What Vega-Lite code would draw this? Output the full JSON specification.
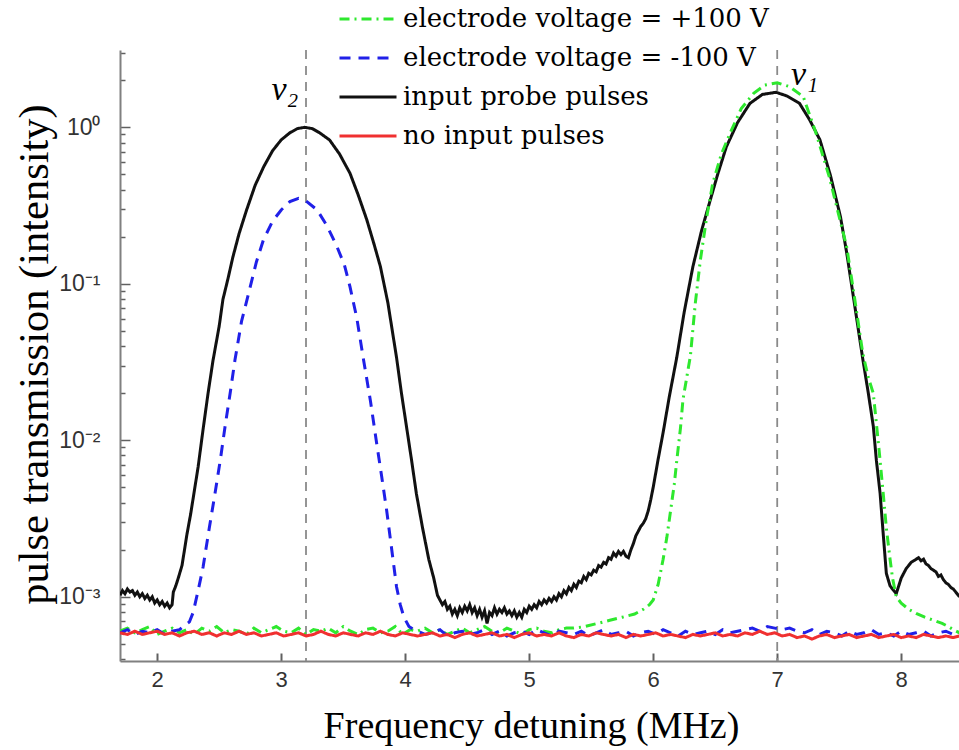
{
"$schema":"https://vega.github.io/schema/vega-lite/v6.json",
"width":839,"height":611,
"autosize":{"type":"none"},
"padding":{"left":120,"top":50,"right":0,"bottom":89},
"background":"white",
"config":{"view":{"stroke":null}},
"datasets":{
"curves":[
{"s":"k","x":1.70,"y":0.001023},{"s":"k","x":1.72,"y":0.001096},{"s":"k","x":1.74,"y":0.001047},{"s":"k","x":1.76,"y":0.001122},{"s":"k","x":1.78,"y":0.001072},{"s":"k","x":1.80,"y":0.001096},{"s":"k","x":1.82,"y":0.001023},{"s":"k","x":1.84,"y":0.001072},{"s":"k","x":1.86,"y":0.001},{"s":"k","x":1.88,"y":0.001047},{"s":"k","x":1.90,"y":0.000977},{"s":"k","x":1.92,"y":0.001023},{"s":"k","x":1.94,"y":0.000955},{"s":"k","x":1.96,"y":0.001},{"s":"k","x":1.98,"y":0.000912},{"s":"k","x":2.00,"y":0.000955},{"s":"k","x":2.02,"y":0.000891},{"s":"k","x":2.04,"y":0.000933},{"s":"k","x":2.06,"y":0.000871},{"s":"k","x":2.08,"y":0.000912},{"s":"k","x":2.10,"y":0.000851},{"s":"k","x":2.12,"y":0.000891},{"s":"k","x":2.13,"y":0.001072},{"s":"k","x":2.15,"y":0.001175},{"s":"k","x":2.17,"y":0.001318},{"s":"k","x":2.20,"y":0.001585},{"s":"k","x":2.22,"y":0.001995},{"s":"k","x":2.24,"y":0.002512},{"s":"k","x":2.27,"y":0.003388},{"s":"k","x":2.30,"y":0.004786},{"s":"k","x":2.33,"y":0.006761},{"s":"k","x":2.37,"y":0.01175},{"s":"k","x":2.41,"y":0.01995},{"s":"k","x":2.45,"y":0.03236},{"s":"k","x":2.50,"y":0.0537},{"s":"k","x":2.53,"y":0.07943},{"s":"k","x":2.57,"y":0.1072},{"s":"k","x":2.61,"y":0.1479},{"s":"k","x":2.66,"y":0.2089},{"s":"k","x":2.72,"y":0.2951},{"s":"k","x":2.79,"y":0.4266},{"s":"k","x":2.86,"y":0.5623},{"s":"k","x":2.93,"y":0.7079},{"s":"k","x":3.00,"y":0.8318},{"s":"k","x":3.07,"y":0.9226},{"s":"k","x":3.13,"y":0.9817},{"s":"k","x":3.19,"y":1.0},{"s":"k","x":3.25,"y":0.9817},{"s":"k","x":3.31,"y":0.9226},{"s":"k","x":3.39,"y":0.83},{"s":"k","x":3.47,"y":0.6761},{"s":"k","x":3.555,"y":0.5082},{"s":"k","x":3.62,"y":0.3715},{"s":"k","x":3.69,"y":0.257},{"s":"k","x":3.75,"y":0.1778},{"s":"k","x":3.80,"y":0.1288},{"s":"k","x":3.86,"y":0.07586},{"s":"k","x":3.93,"y":0.03388},{"s":"k","x":3.97,"y":0.01995},{"s":"k","x":4.01,"y":0.0123},{"s":"k","x":4.05,"y":0.007586},{"s":"k","x":4.09,"y":0.004571},{"s":"k","x":4.14,"y":0.002754},{"s":"k","x":4.19,"y":0.001738},{"s":"k","x":4.23,"y":0.001318},{"s":"k","x":4.26,"y":0.001023},{"s":"k","x":4.28,"y":0.000955},{"s":"k","x":4.30,"y":0.000891},{"s":"k","x":4.32,"y":0.000933},{"s":"k","x":4.34,"y":0.000832},{"s":"k","x":4.36,"y":0.000871},{"s":"k","x":4.38,"y":0.000776},{"s":"k","x":4.40,"y":0.000832},{"s":"k","x":4.42,"y":0.000759},{"s":"k","x":4.44,"y":0.000851},{"s":"k","x":4.46,"y":0.000794},{"s":"k","x":4.48,"y":0.000871},{"s":"k","x":4.50,"y":0.000813},{"s":"k","x":4.52,"y":0.000891},{"s":"k","x":4.54,"y":0.000794},{"s":"k","x":4.56,"y":0.000851},{"s":"k","x":4.58,"y":0.000759},{"s":"k","x":4.60,"y":0.000832},{"s":"k","x":4.62,"y":0.000741},{"s":"k","x":4.64,"y":0.000813},{"s":"k","x":4.66,"y":0.000676},{"s":"k","x":4.68,"y":0.000794},{"s":"k","x":4.70,"y":0.000759},{"s":"k","x":4.72,"y":0.000851},{"s":"k","x":4.74,"y":0.000776},{"s":"k","x":4.76,"y":0.000832},{"s":"k","x":4.78,"y":0.000794},{"s":"k","x":4.80,"y":0.000851},{"s":"k","x":4.82,"y":0.000776},{"s":"k","x":4.84,"y":0.000813},{"s":"k","x":4.86,"y":0.000759},{"s":"k","x":4.88,"y":0.000813},{"s":"k","x":4.90,"y":0.000741},{"s":"k","x":4.92,"y":0.000794},{"s":"k","x":4.94,"y":0.000741},{"s":"k","x":4.96,"y":0.000832},{"s":"k","x":4.98,"y":0.000794},{"s":"k","x":5.00,"y":0.000871},{"s":"k","x":5.02,"y":0.000832},{"s":"k","x":5.04,"y":0.000891},{"s":"k","x":5.06,"y":0.000851},{"s":"k","x":5.08,"y":0.000933},{"s":"k","x":5.10,"y":0.000891},{"s":"k","x":5.12,"y":0.000955},{"s":"k","x":5.14,"y":0.000912},{"s":"k","x":5.16,"y":0.000977},{"s":"k","x":5.18,"y":0.000933},{"s":"k","x":5.20,"y":0.001},{"s":"k","x":5.22,"y":0.000955},{"s":"k","x":5.24,"y":0.001047},{"s":"k","x":5.26,"y":0.001},{"s":"k","x":5.28,"y":0.001096},{"s":"k","x":5.30,"y":0.001047},{"s":"k","x":5.32,"y":0.001148},{"s":"k","x":5.34,"y":0.001096},{"s":"k","x":5.36,"y":0.001202},{"s":"k","x":5.38,"y":0.001148},{"s":"k","x":5.40,"y":0.001259},{"s":"k","x":5.42,"y":0.00123},{"s":"k","x":5.44,"y":0.001349},{"s":"k","x":5.46,"y":0.001288},{"s":"k","x":5.48,"y":0.001413},{"s":"k","x":5.50,"y":0.00138},{"s":"k","x":5.52,"y":0.001479},{"s":"k","x":5.54,"y":0.001445},{"s":"k","x":5.56,"y":0.001585},{"s":"k","x":5.58,"y":0.001549},{"s":"k","x":5.60,"y":0.00166},{"s":"k","x":5.62,"y":0.001622},{"s":"k","x":5.64,"y":0.001778},{"s":"k","x":5.66,"y":0.001738},{"s":"k","x":5.68,"y":0.001905},{"s":"k","x":5.70,"y":0.00182},{"s":"k","x":5.72,"y":0.00195},{"s":"k","x":5.74,"y":0.001862},{"s":"k","x":5.76,"y":0.00195},{"s":"k","x":5.78,"y":0.00182},{"s":"k","x":5.80,"y":0.001778},{"s":"k","x":5.82,"y":0.001995},{"s":"k","x":5.84,"y":0.002188},{"s":"k","x":5.86,"y":0.002455},{"s":"k","x":5.88,"y":0.00263},{"s":"k","x":5.90,"y":0.002818},{"s":"k","x":5.92,"y":0.002951},{"s":"k","x":5.94,"y":0.003162},{"s":"k","x":5.96,"y":0.003548},{"s":"k","x":5.98,"y":0.004169},{"s":"k","x":6.00,"y":0.005012},{"s":"k","x":6.04,"y":0.007586},{"s":"k","x":6.08,"y":0.01122},{"s":"k","x":6.13,"y":0.01905},{"s":"k","x":6.19,"y":0.03388},{"s":"k","x":6.25,"y":0.06607},{"s":"k","x":6.32,"y":0.1288},{"s":"k","x":6.39,"y":0.2188},{"s":"k","x":6.46,"y":0.3428},{"s":"k","x":6.52,"y":0.5012},{"s":"k","x":6.59,"y":0.7516},{"s":"k","x":6.68,"y":1.072},{"s":"k","x":6.78,"y":1.422},{"s":"k","x":6.88,"y":1.622},{"s":"k","x":6.99,"y":1.675},{"s":"k","x":7.08,"y":1.585},{"s":"k","x":7.18,"y":1.422},{"s":"k","x":7.26,"y":1.122},{"s":"k","x":7.345,"y":0.83},{"s":"k","x":7.43,"y":0.4898},{"s":"k","x":7.51,"y":0.2685},{"s":"k","x":7.56,"y":0.1585},{"s":"k","x":7.61,"y":0.0871},{"s":"k","x":7.65,"y":0.0537},{"s":"k","x":7.69,"y":0.03311},{"s":"k","x":7.735,"y":0.01995},{"s":"k","x":7.775,"y":0.0123},{"s":"k","x":7.80,"y":0.007413},{"s":"k","x":7.83,"y":0.004571},{"s":"k","x":7.855,"y":0.002512},{"s":"k","x":7.88,"y":0.001413},{"s":"k","x":7.91,"y":0.001175},{"s":"k","x":7.94,"y":0.001096},{"s":"k","x":7.96,"y":0.001047},{"s":"k","x":7.98,"y":0.001175},{"s":"k","x":8.00,"y":0.001318},{"s":"k","x":8.02,"y":0.001413},{"s":"k","x":8.04,"y":0.001514},{"s":"k","x":8.06,"y":0.001585},{"s":"k","x":8.08,"y":0.00166},{"s":"k","x":8.10,"y":0.001698},{"s":"k","x":8.12,"y":0.001738},{"s":"k","x":8.14,"y":0.001778},{"s":"k","x":8.16,"y":0.001698},{"s":"k","x":8.18,"y":0.001738},{"s":"k","x":8.20,"y":0.001622},{"s":"k","x":8.22,"y":0.001585},{"s":"k","x":8.24,"y":0.001514},{"s":"k","x":8.26,"y":0.001479},{"s":"k","x":8.28,"y":0.001445},{"s":"k","x":8.30,"y":0.001349},{"s":"k","x":8.32,"y":0.00138},{"s":"k","x":8.34,"y":0.001288},{"s":"k","x":8.36,"y":0.00123},{"s":"k","x":8.38,"y":0.001202},{"s":"k","x":8.40,"y":0.001148},{"s":"k","x":8.42,"y":0.001122},{"s":"k","x":8.44,"y":0.001072},{"s":"k","x":8.47,"y":0.001},
{"s":"g","x":1.70,"y":0.000603},{"s":"g","x":1.76,"y":0.000631},{"s":"g","x":1.82,"y":0.000589},{"s":"g","x":1.88,"y":0.000617},{"s":"g","x":1.94,"y":0.000646},{"s":"g","x":2.00,"y":0.000575},{"s":"g","x":2.06,"y":0.000603},{"s":"g","x":2.12,"y":0.000631},{"s":"g","x":2.18,"y":0.000589},{"s":"g","x":2.24,"y":0.000617},{"s":"g","x":2.30,"y":0.000575},{"s":"g","x":2.36,"y":0.000631},{"s":"g","x":2.42,"y":0.000603},{"s":"g","x":2.48,"y":0.000646},{"s":"g","x":2.54,"y":0.000589},{"s":"g","x":2.60,"y":0.000617},{"s":"g","x":2.66,"y":0.000603},{"s":"g","x":2.72,"y":0.000575},{"s":"g","x":2.78,"y":0.000631},{"s":"g","x":2.84,"y":0.000589},{"s":"g","x":2.90,"y":0.000617},{"s":"g","x":2.96,"y":0.000646},{"s":"g","x":3.02,"y":0.000603},{"s":"g","x":3.08,"y":0.000589},{"s":"g","x":3.14,"y":0.000631},{"s":"g","x":3.20,"y":0.000575},{"s":"g","x":3.26,"y":0.000617},{"s":"g","x":3.32,"y":0.000603},{"s":"g","x":3.38,"y":0.000631},{"s":"g","x":3.44,"y":0.000589},{"s":"g","x":3.50,"y":0.000646},{"s":"g","x":3.56,"y":0.000603},{"s":"g","x":3.62,"y":0.000575},{"s":"g","x":3.68,"y":0.000617},{"s":"g","x":3.74,"y":0.000631},{"s":"g","x":3.80,"y":0.000589},{"s":"g","x":3.86,"y":0.000603},{"s":"g","x":3.92,"y":0.000646},{"s":"g","x":3.98,"y":0.000575},{"s":"g","x":4.04,"y":0.000617},{"s":"g","x":4.10,"y":0.000603},{"s":"g","x":4.16,"y":0.000631},{"s":"g","x":4.22,"y":0.000589},{"s":"g","x":4.28,"y":0.000617},{"s":"g","x":4.34,"y":0.000575},{"s":"g","x":4.40,"y":0.000603},{"s":"g","x":4.46,"y":0.000631},{"s":"g","x":4.52,"y":0.000589},{"s":"g","x":4.58,"y":0.000617},{"s":"g","x":4.64,"y":0.000646},{"s":"g","x":4.70,"y":0.000603},{"s":"g","x":4.76,"y":0.000589},{"s":"g","x":4.82,"y":0.000631},{"s":"g","x":4.88,"y":0.000603},{"s":"g","x":4.94,"y":0.000575},{"s":"g","x":5.00,"y":0.000617},{"s":"g","x":5.06,"y":0.000631},{"s":"g","x":5.12,"y":0.000603},{"s":"g","x":5.18,"y":0.000589},{"s":"g","x":5.24,"y":0.000617},{"s":"g","x":5.30,"y":0.000631},{"s":"g","x":5.36,"y":0.000631},{"s":"g","x":5.45,"y":0.000646},{"s":"g","x":5.55,"y":0.000676},{"s":"g","x":5.65,"y":0.000708},{"s":"g","x":5.75,"y":0.000741},{"s":"g","x":5.85,"y":0.000776},{"s":"g","x":5.92,"y":0.000832},{"s":"g","x":5.97,"y":0.000891},{"s":"g","x":6.00,"y":0.000955},{"s":"g","x":6.04,"y":0.001202},{"s":"g","x":6.08,"y":0.001738},{"s":"g","x":6.11,"y":0.002399},{"s":"g","x":6.14,"y":0.003548},{"s":"g","x":6.17,"y":0.005248},{"s":"g","x":6.19,"y":0.007413},{"s":"g","x":6.22,"y":0.01202},{"s":"g","x":6.24,"y":0.0182},{"s":"g","x":6.27,"y":0.02512},{"s":"g","x":6.30,"y":0.03467},{"s":"g","x":6.34,"y":0.07586},{"s":"g","x":6.38,"y":0.1413},{"s":"g","x":6.43,"y":0.263},{"s":"g","x":6.48,"y":0.4385},{"s":"g","x":6.55,"y":0.6761},{"s":"g","x":6.62,"y":0.9162},{"s":"g","x":6.71,"y":1.318},{"s":"g","x":6.81,"y":1.648},{"s":"g","x":6.90,"y":1.862},{"s":"g","x":7.00,"y":1.928},{"s":"g","x":7.10,"y":1.82},{"s":"g","x":7.21,"y":1.57},{"s":"g","x":7.31,"y":0.9333},{"s":"g","x":7.42,"y":0.4831},{"s":"g","x":7.49,"y":0.2884},{"s":"g","x":7.56,"y":0.1726},{"s":"g","x":7.62,"y":0.08511},{"s":"g","x":7.69,"y":0.03597},{"s":"g","x":7.735,"y":0.02512},{"s":"g","x":7.775,"y":0.01995},{"s":"g","x":7.82,"y":0.008913},{"s":"g","x":7.855,"y":0.004571},{"s":"g","x":7.88,"y":0.002754},{"s":"g","x":7.91,"y":0.001738},{"s":"g","x":7.93,"y":0.001318},{"s":"g","x":7.96,"y":0.001},{"s":"g","x":8.00,"y":0.000912},{"s":"g","x":8.06,"y":0.000832},{"s":"g","x":8.12,"y":0.000785},{"s":"g","x":8.19,"y":0.000741},{"s":"g","x":8.26,"y":0.000708},{"s":"g","x":8.33,"y":0.000676},{"s":"g","x":8.38,"y":0.000646},{"s":"g","x":8.42,"y":0.000617},{"s":"g","x":8.47,"y":0.000589},
{"s":"b","x":1.70,"y":0.000589},{"s":"b","x":1.76,"y":0.000617},{"s":"b","x":1.82,"y":0.000575},{"s":"b","x":1.88,"y":0.000603},{"s":"b","x":1.94,"y":0.000589},{"s":"b","x":2.00,"y":0.000617},{"s":"b","x":2.06,"y":0.000575},{"s":"b","x":2.12,"y":0.000603},{"s":"b","x":2.18,"y":0.000617},{"s":"b","x":2.21,"y":0.000646},{"s":"b","x":2.26,"y":0.000692},{"s":"b","x":2.29,"y":0.000794},{"s":"b","x":2.33,"y":0.001096},{"s":"b","x":2.37,"y":0.001549},{"s":"b","x":2.42,"y":0.002754},{"s":"b","x":2.466,"y":0.004571},{"s":"b","x":2.51,"y":0.007586},{"s":"b","x":2.547,"y":0.01222},{"s":"b","x":2.59,"y":0.02042},{"s":"b","x":2.627,"y":0.03258},{"s":"b","x":2.68,"y":0.05754},{"s":"b","x":2.75,"y":0.0955},{"s":"b","x":2.80,"y":0.138},{"s":"b","x":2.856,"y":0.1905},{"s":"b","x":2.93,"y":0.2512},{"s":"b","x":3.00,"y":0.2965},{"s":"b","x":3.07,"y":0.335},{"s":"b","x":3.14,"y":0.3516},{"s":"b","x":3.20,"y":0.3388},{"s":"b","x":3.29,"y":0.2965},{"s":"b","x":3.37,"y":0.2344},{"s":"b","x":3.45,"y":0.1726},{"s":"b","x":3.51,"y":0.1318},{"s":"b","x":3.555,"y":0.0955},{"s":"b","x":3.61,"y":0.06026},{"s":"b","x":3.66,"y":0.0342},{"s":"b","x":3.72,"y":0.01778},{"s":"b","x":3.77,"y":0.00955},{"s":"b","x":3.81,"y":0.005888},{"s":"b","x":3.85,"y":0.003589},{"s":"b","x":3.89,"y":0.002042},{"s":"b","x":3.93,"y":0.001161},{"s":"b","x":3.96,"y":0.000891},{"s":"b","x":3.99,"y":0.000741},{"s":"b","x":4.03,"y":0.000646},{"s":"b","x":4.07,"y":0.000617},{"s":"b","x":4.10,"y":0.000603},{"s":"b","x":4.16,"y":0.000575},{"s":"b","x":4.22,"y":0.000589},{"s":"b","x":4.28,"y":0.000617},{"s":"b","x":4.34,"y":0.000562},{"s":"b","x":4.40,"y":0.000589},{"s":"b","x":4.46,"y":0.000603},{"s":"b","x":4.52,"y":0.000575},{"s":"b","x":4.58,"y":0.000589},{"s":"b","x":4.64,"y":0.000617},{"s":"b","x":4.70,"y":0.000575},{"s":"b","x":4.76,"y":0.000603},{"s":"b","x":4.82,"y":0.000562},{"s":"b","x":4.88,"y":0.000589},{"s":"b","x":4.94,"y":0.000603},{"s":"b","x":5.00,"y":0.000575},{"s":"b","x":5.06,"y":0.000617},{"s":"b","x":5.12,"y":0.000589},{"s":"b","x":5.18,"y":0.000562},{"s":"b","x":5.24,"y":0.000603},{"s":"b","x":5.30,"y":0.000589},{"s":"b","x":5.36,"y":0.000575},{"s":"b","x":5.42,"y":0.000603},{"s":"b","x":5.48,"y":0.000562},{"s":"b","x":5.54,"y":0.000589},{"s":"b","x":5.60,"y":0.000617},{"s":"b","x":5.66,"y":0.000575},{"s":"b","x":5.72,"y":0.000589},{"s":"b","x":5.78,"y":0.000603},{"s":"b","x":5.84,"y":0.000562},{"s":"b","x":5.90,"y":0.000589},{"s":"b","x":5.96,"y":0.000603},{"s":"b","x":6.02,"y":0.000575},{"s":"b","x":6.08,"y":0.000617},{"s":"b","x":6.14,"y":0.000589},{"s":"b","x":6.20,"y":0.000562},{"s":"b","x":6.26,"y":0.000603},{"s":"b","x":6.32,"y":0.000575},{"s":"b","x":6.38,"y":0.000589},{"s":"b","x":6.44,"y":0.000603},{"s":"b","x":6.50,"y":0.000575},{"s":"b","x":6.56,"y":0.000617},{"s":"b","x":6.62,"y":0.000589},{"s":"b","x":6.68,"y":0.000603},{"s":"b","x":6.74,"y":0.000617},{"s":"b","x":6.80,"y":0.000631},{"s":"b","x":6.86,"y":0.000603},{"s":"b","x":6.92,"y":0.000646},{"s":"b","x":6.98,"y":0.000631},{"s":"b","x":7.04,"y":0.000617},{"s":"b","x":7.10,"y":0.000631},{"s":"b","x":7.16,"y":0.000603},{"s":"b","x":7.22,"y":0.000589},{"s":"b","x":7.28,"y":0.000617},{"s":"b","x":7.34,"y":0.000575},{"s":"b","x":7.40,"y":0.000603},{"s":"b","x":7.46,"y":0.000589},{"s":"b","x":7.52,"y":0.000562},{"s":"b","x":7.58,"y":0.000603},{"s":"b","x":7.64,"y":0.000575},{"s":"b","x":7.70,"y":0.000589},{"s":"b","x":7.76,"y":0.000617},{"s":"b","x":7.82,"y":0.000575},{"s":"b","x":7.88,"y":0.000589},{"s":"b","x":7.94,"y":0.000562},{"s":"b","x":8.00,"y":0.000603},{"s":"b","x":8.06,"y":0.000575},{"s":"b","x":8.12,"y":0.000589},{"s":"b","x":8.18,"y":0.000603},{"s":"b","x":8.24,"y":0.000562},{"s":"b","x":8.30,"y":0.000589},{"s":"b","x":8.36,"y":0.000603},{"s":"b","x":8.42,"y":0.000575},{"s":"b","x":8.47,"y":0.000589},
{"s":"r","x":1.70,"y":0.000589},{"s":"r","x":1.76,"y":0.000575},{"s":"r","x":1.82,"y":0.000603},{"s":"r","x":1.88,"y":0.000575},{"s":"r","x":1.94,"y":0.000589},{"s":"r","x":2.00,"y":0.000603},{"s":"r","x":2.06,"y":0.000575},{"s":"r","x":2.12,"y":0.000589},{"s":"r","x":2.18,"y":0.000562},{"s":"r","x":2.24,"y":0.000589},{"s":"r","x":2.30,"y":0.000603},{"s":"r","x":2.36,"y":0.000575},{"s":"r","x":2.42,"y":0.000589},{"s":"r","x":2.48,"y":0.000562},{"s":"r","x":2.54,"y":0.000589},{"s":"r","x":2.60,"y":0.000575},{"s":"r","x":2.66,"y":0.000603},{"s":"r","x":2.72,"y":0.000575},{"s":"r","x":2.78,"y":0.000589},{"s":"r","x":2.84,"y":0.000562},{"s":"r","x":2.90,"y":0.000575},{"s":"r","x":2.96,"y":0.000589},{"s":"r","x":3.02,"y":0.000562},{"s":"r","x":3.08,"y":0.000575},{"s":"r","x":3.14,"y":0.000589},{"s":"r","x":3.20,"y":0.000562},{"s":"r","x":3.26,"y":0.000575},{"s":"r","x":3.32,"y":0.000603},{"s":"r","x":3.38,"y":0.000575},{"s":"r","x":3.44,"y":0.000562},{"s":"r","x":3.50,"y":0.000589},{"s":"r","x":3.56,"y":0.000575},{"s":"r","x":3.62,"y":0.000562},{"s":"r","x":3.68,"y":0.000589},{"s":"r","x":3.74,"y":0.000575},{"s":"r","x":3.80,"y":0.000603},{"s":"r","x":3.86,"y":0.000575},{"s":"r","x":3.92,"y":0.000562},{"s":"r","x":3.98,"y":0.000589},{"s":"r","x":4.04,"y":0.000575},{"s":"r","x":4.10,"y":0.000562},{"s":"r","x":4.16,"y":0.000575},{"s":"r","x":4.22,"y":0.000589},{"s":"r","x":4.28,"y":0.000562},{"s":"r","x":4.34,"y":0.000575},{"s":"r","x":4.40,"y":0.000549},{"s":"r","x":4.46,"y":0.000575},{"s":"r","x":4.52,"y":0.000589},{"s":"r","x":4.58,"y":0.000562},{"s":"r","x":4.64,"y":0.000575},{"s":"r","x":4.70,"y":0.000589},{"s":"r","x":4.76,"y":0.000562},{"s":"r","x":4.82,"y":0.000575},{"s":"r","x":4.88,"y":0.000549},{"s":"r","x":4.94,"y":0.000575},{"s":"r","x":5.00,"y":0.000589},{"s":"r","x":5.06,"y":0.000562},{"s":"r","x":5.12,"y":0.000575},{"s":"r","x":5.18,"y":0.000562},{"s":"r","x":5.24,"y":0.000589},{"s":"r","x":5.30,"y":0.000562},{"s":"r","x":5.36,"y":0.000549},{"s":"r","x":5.42,"y":0.000575},{"s":"r","x":5.48,"y":0.000562},{"s":"r","x":5.54,"y":0.000589},{"s":"r","x":5.60,"y":0.000575},{"s":"r","x":5.66,"y":0.000562},{"s":"r","x":5.72,"y":0.000575},{"s":"r","x":5.78,"y":0.000549},{"s":"r","x":5.84,"y":0.000575},{"s":"r","x":5.90,"y":0.000562},{"s":"r","x":5.96,"y":0.000575},{"s":"r","x":6.02,"y":0.000589},{"s":"r","x":6.08,"y":0.000562},{"s":"r","x":6.14,"y":0.000575},{"s":"r","x":6.20,"y":0.000562},{"s":"r","x":6.26,"y":0.000549},{"s":"r","x":6.32,"y":0.000575},{"s":"r","x":6.38,"y":0.000562},{"s":"r","x":6.44,"y":0.000575},{"s":"r","x":6.50,"y":0.000589},{"s":"r","x":6.56,"y":0.000562},{"s":"r","x":6.62,"y":0.000575},{"s":"r","x":6.68,"y":0.000562},{"s":"r","x":6.74,"y":0.000589},{"s":"r","x":6.80,"y":0.000575},{"s":"r","x":6.86,"y":0.000603},{"s":"r","x":6.92,"y":0.000575},{"s":"r","x":6.98,"y":0.000589},{"s":"r","x":7.04,"y":0.000562},{"s":"r","x":7.10,"y":0.000575},{"s":"r","x":7.16,"y":0.000549},{"s":"r","x":7.22,"y":0.000562},{"s":"r","x":7.28,"y":0.000537},{"s":"r","x":7.34,"y":0.000562},{"s":"r","x":7.40,"y":0.000575},{"s":"r","x":7.46,"y":0.000549},{"s":"r","x":7.52,"y":0.000562},{"s":"r","x":7.58,"y":0.000575},{"s":"r","x":7.64,"y":0.000549},{"s":"r","x":7.70,"y":0.000562},{"s":"r","x":7.76,"y":0.000575},{"s":"r","x":7.82,"y":0.000549},{"s":"r","x":7.88,"y":0.000562},{"s":"r","x":7.94,"y":0.000575},{"s":"r","x":8.00,"y":0.000549},{"s":"r","x":8.06,"y":0.000562},{"s":"r","x":8.12,"y":0.000549},{"s":"r","x":8.18,"y":0.000575},{"s":"r","x":8.24,"y":0.000562},{"s":"r","x":8.30,"y":0.000549},{"s":"r","x":8.36,"y":0.000562},{"s":"r","x":8.42,"y":0.000549},{"s":"r","x":8.47,"y":0.000562}
]},
"layer":[
{"data":{"values":[{"x":3.2},{"x":7.0}]},
 "mark":{"type":"rule","strokeDash":[9,7],"color":"#8a8a8a","strokeWidth":1.8},
 "encoding":{"x":{"field":"x","type":"quantitative","scale":{"domain":[1.7,8.466],"nice":false,"zero":false}}}},
{"data":{"name":"curves"},
 "transform":[{"lookup":"s","from":{"data":{"values":[{"s":"g","name":"electrode voltage = +100 V"},{"s":"b","name":"electrode voltage = -100 V"},{"s":"k","name":"input probe pulses"},{"s":"r","name":"no input pulses"}]},"key":"s","fields":["name"]}}],
 "mark":{"type":"line","clip":true},
 "encoding":{
  "x":{"field":"x","type":"quantitative","scale":{"domain":[1.7,8.466],"nice":false,"zero":false},
   "axis":{"values":[2,3,4,5,6,7,8],"format":"d","grid":false,"domainColor":"#808080","domainWidth":2,"tickColor":"#606060","tickWidth":2,"tickSize":-8,"labelPadding":16,"labelFont":"Liberation Sans","labelFontSize":22,"labelColor":"#333333","title":"Frequency detuning (MHz)","titleFont":"Liberation Serif","titleFontSize":38,"titleFontWeight":"normal","titleColor":"#000000","titleBaseline":"alphabetic","titleX":411,"titleY":76,"titleAlign":"center"}},
  "y":{"field":"y","type":"quantitative","scale":{"type":"log","domain":[0.000389,3.12],"nice":false},
   "axis":{"values":[0.0004,0.0005,0.0006,0.0007,0.0008,0.0009,0.001,0.002,0.003,0.004,0.005,0.006,0.007,0.008,0.009,0.01,0.02,0.03,0.04,0.05,0.06,0.07,0.08,0.09,0.1,0.2,0.3,0.4,0.5,0.6,0.7,0.8,0.9,1,2,3],
    "labelExpr":"datum.value == 1 ? '10⁰' : datum.value == 0.1 ? '10⁻¹' : datum.value == 0.01 ? '10⁻²' : datum.value == 0.001 ? '10⁻³' : ''",
    "labelOverlap":false,"grid":false,"domainColor":"#808080","domainWidth":2,"tickColor":"#606060","tickWidth":1.5,
    "tickSize":{"condition":{"test":"indexof([0.001,0.01,0.1,1], datum.value) >= 0","value":-10},"value":-5},
    "labelPadding":30,"labelFont":"Liberation Sans","labelFontSize":23,"labelColor":"#333333",
    "title":"pulse transmission (intensity)","titleFont":"Liberation Serif","titleFontSize":42.5,"titleFontWeight":"normal","titleColor":"#000000","titleBaseline":"alphabetic","titleX":-73,"titleY":304,"titleAlign":"center"}},
  "color":{"field":"name","type":"nominal","scale":{"domain":["electrode voltage = +100 V","electrode voltage = -100 V","input probe pulses","no input pulses"],"range":["#2ee82e","#2020e8","#111111","#f03030"]},
   "legend":{"orient":"none","legendX":218,"legendY":-50,"title":null,"symbolType":"stroke","symbolSize":3249,"clipHeight":38,"rowPadding":1,"labelFont":"DejaVu Serif","labelFontSize":26,"labelColor":"#000000","labelLimit":600,"labelOffset":5,"padding":0}},
  "strokeDash":{"field":"name","type":"nominal","scale":{"domain":["electrode voltage = +100 V","electrode voltage = -100 V","input probe pulses","no input pulses"],"range":[[10,5,2,5],[11,8],[1,0],[1,0]]}},
  "strokeWidth":{"field":"name","type":"nominal","scale":{"domain":["electrode voltage = +100 V","electrode voltage = -100 V","input probe pulses","no input pulses"],"range":[3,3,1.7,1.6]}}
 }},
{"data":{"values":[{"x":3.03,"y":1.73,"t":"ν₂"},{"x":7.22,"y":2.16,"t":"ν₁"}]},
 "mark":{"type":"text","font":"Liberation Serif","fontStyle":"italic","fontSize":34,"color":"#000000","align":"center","baseline":"middle"},
 "encoding":{"x":{"field":"x","type":"quantitative"},"y":{"field":"y","type":"quantitative"},"text":{"field":"t"}}}
]
}
